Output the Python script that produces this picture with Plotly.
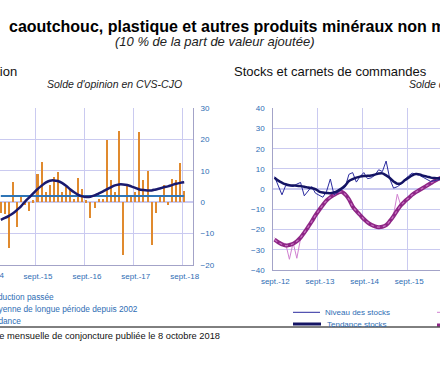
import plotly.graph_objects as go

W, H = 440, 380
FONT = "Liberation Sans, Arial, sans-serif"
BLUE_TXT = "#2E6DB4"
GRID = "#CACAF0"
AXLINE = "#A3A3C8"

# ---------------- Left chart: production passée (months Dec 2014 .. Sep 2018) ----------------
prod_months = ["déc.-14", "janv.-15", "févr.-15", "mars-15", "avr.-15", "mai-15", "juin-15", "juil.-15", "août-15",
               "sept.-15", "oct.-15", "nov.-15", "déc.-15", "janv.-16", "févr.-16", "mars-16", "avr.-16", "mai-16",
               "juin-16", "juil.-16", "août-16", "sept.-16", "oct.-16", "nov.-16", "déc.-16", "janv.-17", "févr.-17",
               "mars-17", "avr.-17", "mai-17", "juin-17", "juil.-17", "août-17", "sept.-17", "oct.-17", "nov.-17",
               "déc.-17", "janv.-18", "févr.-18", "mars-18", "avr.-18", "mai-18", "juin-18", "juil.-18", "août-18",
               "sept.-18"]
prod_values = [-3.5, -3.8, -14.7, 6.5, -7.9, 1.7, -0.8, -3.0, 0.6,
               9.1, 12.8, 3.3, 5.4, 8.0, 9.7, 3.3, 4.7, 3.8,
               1.0, 7.6, 4.3, 0.5, -5.2, -2.0, 1.0, 1.0, 19.7,
               7.0, 3.3, 22.7, -16.9, 5.0, 1.5, 3.3, 22.2, 7.0,
               9.9, -13.7, -3.5, 1.7, 5.4, -0.8, 7.5, 7.0, 12.5,
               3.5]
prod_trend = [-5.6, -5.0, -4.3, -3.5, -2.4, -1.2, 0.3, 1.6, 2.9,
              4.2, 5.3, 6.3, 6.9, 7.0, 6.8, 6.2, 5.3, 4.2,
              3.2, 2.4, 1.9, 1.7, 1.8, 2.2, 2.8, 3.4, 4.1,
              4.8, 5.4, 5.7, 5.7, 5.5, 5.1, 4.6, 4.1, 3.9,
              3.8, 3.8, 4.1, 4.4, 4.8, 5.1, 5.5, 5.9, 6.2,
              6.4]
prod_mean = 2.0
prod_ticks = ["sept.-15", "sept.-16", "sept.-17", "sept.-18"]

# ---------------- Right chart: stocks et carnets (months from Sep 2012) ----------------
stock_level = [6.2, 2.0, -2.8, 1.8, 1.5, 1.3, 2.5, 3.3, -3.3, -1.0,
               1.3, -2.0, -3.0, -4.0, -1.0, 5.0, -2.8, -1.5, -0.5, 1.0,
               7.3, 8.2, 3.5, 6.2, 8.2, 5.2, 5.6, 7.0, 9.6, 8.7,
               13.9, 5.0, 0.5, 1.2, 2.5, 4.5, 6.5, 7.9, 7.5, 6.8,
               5.8, 4.6, 3.8, 4.2, 4.6, 5.0]
stock_trend = [5.6, 4.2, 3.2, 2.4, 2.0, 1.8, 1.7, 1.5, 1.2, 0.8,
               0.5, 0.0, -1.2, -1.7, -1.9, -2.0, -1.6, -0.8, 0.3, 1.8,
               4.0, 5.0, 5.7, 6.2, 6.5, 6.6, 6.8, 7.2, 7.7, 7.8,
               6.8, 5.5, 3.8, 2.7, 2.9, 4.4, 5.6, 6.8, 7.5, 7.3,
               6.6, 6.2, 5.7, 5.5, 5.4, 5.4]
order_level = [-24.0, -26.0, -26.5, -27.0, -34.7, -26.5, -34.2, -24.5, -22.0, -19.0,
               -16.5, -12.5, -10.8, -7.5, -6.0, -3.5, -2.5, -0.8, -1.0, -1.5,
               -6.0, -8.0, -11.0, -12.5, -15.2, -16.0, -18.0, -18.0, -19.5, -18.3,
               -18.2, -16.0, -12.8, -2.5, -8.3, -6.5, -4.0, -3.0, -1.2, -0.8,
               1.1, 1.5, 3.2, 3.8, 5.2, 5.8]
order_trend = [-25.0, -26.3, -27.3, -27.9, -27.6, -27.0, -25.8, -24.0, -21.5, -18.8,
               -16.0, -13.0, -10.3, -7.8, -5.6, -4.0, -2.8, -1.8, -1.3, -2.6,
               -5.0, -8.5, -10.8, -12.8, -14.8, -16.4, -17.6, -18.4, -18.8, -18.6,
               -17.8, -15.8, -13.3, -10.5, -8.0, -6.1, -4.5, -2.8, -1.5, -0.4,
               0.7, 1.8, 2.9, 4.0, 5.0, 5.8]
stock_ticks = ["sept.-12", "sept.-13", "sept.-14", "sept.-15"]

# month indices (Sep 2015 = 0 on the left chart, Sep 2012 = 0 on the right chart)
xl = [i - 9 for i in range(len(prod_months))]
xr = list(range(len(stock_level)))

fig = go.Figure()

fig.add_trace(go.Bar(x=xl, y=prod_values, width=0.5, marker=dict(color="#E08A2E", line=dict(width=0)),
                     customdata=prod_months, name="Production passée", xaxis="x", yaxis="y"))
fig.add_trace(go.Scatter(x=xl, y=[prod_mean] * len(xl), mode="lines", line=dict(color="#2E75B6", width=2),
                         name="Moyenne de longue période depuis 2002", xaxis="x", yaxis="y"))
fig.add_trace(go.Scatter(x=xl, y=prod_trend, mode="lines", line=dict(color="#1A1A6E", width=2.5, shape="spline"),
                         name="Tendance", xaxis="x", yaxis="y"))

fig.add_trace(go.Scatter(x=xr, y=order_level, mode="lines", line=dict(color="#D080D0", width=1),
                         name="Niveau des carnets", xaxis="x2", yaxis="y2"))
fig.add_trace(go.Scatter(x=xr, y=order_trend, mode="lines", line=dict(color="#8E2786", width=4, shape="spline"),
                         name="Tendance carnets", xaxis="x2", yaxis="y2"))
fig.add_trace(go.Scatter(x=xr, y=order_trend, mode="lines", line=dict(color="#C872C2", width=1.2, dash="dot", shape="spline"),
                         showlegend=False, xaxis="x2", yaxis="y2"))
fig.add_trace(go.Scatter(x=xr, y=stock_level, mode="lines", line=dict(color="#2A2A9E", width=1),
                         name="Niveau des stocks", xaxis="x2", yaxis="y2"))
fig.add_trace(go.Scatter(x=xr, y=stock_trend, mode="lines", line=dict(color="#141464", width=2.5, shape="spline"),
                         name="Tendance stocks", xaxis="x2", yaxis="y2"))


def px(x):
    return x / W


def py(y):
    return 1 - y / H


tickfont = dict(family=FONT, size=8, color=BLUE_TXT)

fig.update_layout(
    width=W, height=H, margin=dict(l=0, r=0, t=0, b=0, autoexpand=False),
    paper_bgcolor="white", plot_bgcolor="white", showlegend=False, bargap=0,
    font=dict(family=FONT),
    xaxis=dict(domain=[0, px(193)], range=[-9.2, 38.16], tickvals=[-0.37, 11.63, 23.63, 35.63],
               ticktext=prod_ticks, showgrid=True, gridcolor=GRID, zeroline=False, showline=True,
               linecolor=AXLINE, ticks="", tickfont=tickfont, ticklabelshift=2, ticklabelstandoff=3),
    yaxis=dict(domain=[py(265), py(108.3)], range=[-20, 30], dtick=10, side="right", showgrid=True,
               gridcolor=GRID, zeroline=True, zerolinecolor=GRID, showline=True, linecolor=AXLINE,
               ticks="", tickfont=tickfont, ticklabelstandoff=5),
    xaxis2=dict(domain=[px(273.3), 1], range=[-0.33, 44.49], tickvals=[-0.32, 11.68, 23.68, 35.68],
                ticktext=stock_ticks, showgrid=True, gridcolor=GRID, zeroline=False, showline=True,
                linecolor=AXLINE, ticks="", tickfont=tickfont, ticklabelshift=2, ticklabelstandoff=3,
                anchor="y2"),
    yaxis2=dict(domain=[py(270), py(108.3)], range=[-40, 40], dtick=10, side="left", showgrid=True,
                gridcolor=GRID, zeroline=True, zerolinecolor=GRID, showline=True, linecolor=AXLINE,
                ticks="", tickfont=tickfont, ticklabelstandoff=6, anchor="x2"),
)

ann = []


def A(text, x, y, size, xanchor="left", color="black", bold=False, italic=False):
    t = text
    if bold:
        t = "<b>" + t + "</b>"
    if italic:
        t = "<i>" + t + "</i>"
    ann.append(dict(text=t, x=px(x), y=py(y), xref="paper", yref="paper", xanchor=xanchor, yanchor="middle",
                    showarrow=False, font=dict(family=FONT, size=size, color=color)))


A("caoutchouc, plastique et autres produits minéraux non métalliques", 6.7, 26.7, 16, bold=True)
A("(10 % de la part de valeur ajoutée)", 214, 41.7, 13, xanchor="center", color="#222222", italic=True)
A("Production", 18.5, 71.7, 13, xanchor="right", color="#111111")
A("Solde d'opinion en CVS-CJO", 114.7, 84, 10.5, xanchor="center", color="#222222", italic=True)
A("Stocks et carnets de commandes", 231.7, 71.7, 13, color="#111111")
A("Solde d'opinion en CVS-CJO", 406.7, 84, 10.5, color="#222222", italic=True)
A("sept.-14", -10.9, 275, 8, xanchor="center", color=BLUE_TXT)
A("Production passée", 55.7, 296.7, 8.3, xanchor="right", color=BLUE_TXT)
A("Moyenne de longue période depuis 2002", 140, 309, 8.3, xanchor="right", color=BLUE_TXT)
A("Tendance", 23.3, 321, 8.3, xanchor="right", color=BLUE_TXT)
A("Niveau des stocks", 322.7, 312.3, 8, color=BLUE_TXT)
A("Tendance stocks", 325, 324, 8, color=BLUE_TXT)
A("Banque de France – Enquête mensuelle de conjoncture publiée le 8 octobre 2018", 221.7, 336, 9.3,
  xanchor="right", color="#111111")

shapes = [
    dict(type="line", xref="paper", yref="paper", x0=px(293), x1=px(320), y0=py(312.3), y1=py(312.3),
         line=dict(color="#2A2A9E", width=1)),
    dict(type="line", xref="paper", yref="paper", x0=px(293), x1=px(321), y0=py(324), y1=py(324),
         line=dict(color="#141464", width=3)),
    dict(type="line", xref="paper", yref="paper", x0=px(437), x1=px(440), y0=py(312.3), y1=py(312.3),
         line=dict(color="#D080D0", width=1)),
    dict(type="line", xref="paper", yref="paper", x0=px(437), x1=px(440), y0=py(325), y1=py(325),
         line=dict(color="#8E2786", width=3)),
    dict(type="line", xref="paper", yref="paper", x0=0, x1=1, y0=py(327), y1=py(327),
         line=dict(color="black", width=1)),
]

fig.update_layout(annotations=ann, shapes=shapes)
fig.write_html("out.html", config={"displayModeBar": False},
               post_script="document.body.style.margin='0';document.body.style.overflow='hidden';")
